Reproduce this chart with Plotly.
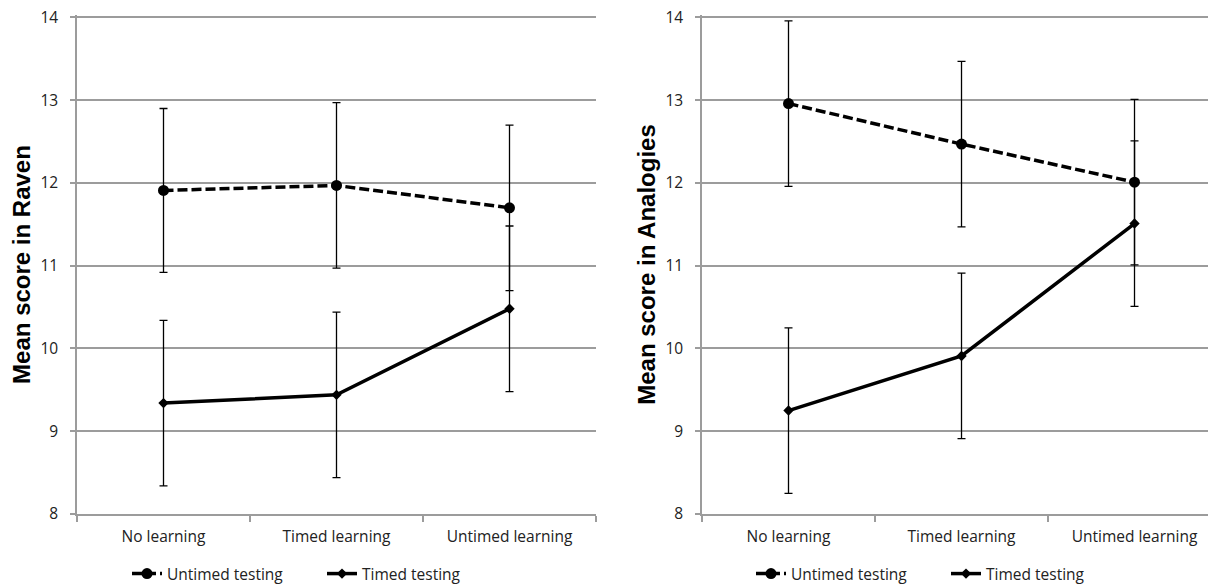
import plotly.graph_objects as go

categories = ["No learning", "Timed learning", "Untimed learning"]
series_names = ["Untimed testing", "Timed testing"]

# Panel 1: Raven
raven_untimed = [11.91, 11.97, 11.70]
raven_untimed_err = [0.99, 1.00, 1.00]
raven_timed = [9.34, 9.44, 10.48]
raven_timed_err = [1.00, 1.00, 1.00]

# Panel 2: Analogies
analog_untimed = [12.96, 12.47, 12.01]
analog_untimed_err = [1.00, 1.00, 1.00]
analog_timed = [9.25, 9.91, 11.51]
analog_timed_err = [1.00, 1.00, 1.00]

y_ticks = [8, 9, 10, 11, 12, 13, 14]

# the page body has an 8px margin, so the figure is drawn 8px smaller
W, H = 1208, 579
FONT = "Open Sans"
GRID = "#9c9c9c"

fig = go.Figure()

def add_panel(xa, ya, untimed, uerr, timed, terr, legend):
    fig.add_trace(go.Scatter(
        x=categories, y=untimed, name=series_names[0], xaxis=xa, yaxis=ya,
        mode="lines+markers", legend=legend, cliponaxis=False,
        line=dict(color="black", width=3.5, dash="10px,4px"),
        marker=dict(symbol="circle", size=11, color="black"),
        error_y=dict(type="data", array=uerr, visible=True, color="black",
                     thickness=1.3, width=4),
    ))
    fig.add_trace(go.Scatter(
        x=categories, y=timed, name=series_names[1], xaxis=xa, yaxis=ya,
        mode="lines+markers", legend=legend, cliponaxis=False,
        line=dict(color="black", width=3.5),
        marker=dict(symbol="diamond", size=8, color="black"),
        error_y=dict(type="data", array=terr, visible=True, color="black",
                     thickness=1.3, width=4),
    ))

add_panel("x", "y", raven_untimed, raven_untimed_err, raven_timed, raven_timed_err, "legend")
add_panel("x2", "y2", analog_untimed, analog_untimed_err, analog_timed, analog_timed_err, "legend2")

tickfont = dict(family=FONT, size=15.5, color="#222222")

def xaxis(domain, rng, anchor):
    return dict(domain=domain, anchor=anchor, type="category", categoryorder="array",
                categoryarray=categories, range=rng, tickson="boundaries",
                ticks="outside", ticklen=6, tickcolor=GRID, tickwidth=1.5,
                showline=True, linecolor=GRID, linewidth=1.5, showgrid=False,
                tickfont=tickfont, ticklabelstandoff=8, automargin=False,
                ticklabeloverflow="allow", fixedrange=True)

def yaxis(anchor, title):
    return dict(domain=[0, 1], anchor=anchor, range=[8, 14.03], tickvals=y_ticks,
                ticks="outside", ticklen=5, tickcolor=GRID, tickwidth=1.5,
                showline=True, linecolor=GRID, linewidth=1.5,
                showgrid=True, gridcolor=GRID, gridwidth=1.5, zeroline=False,
                tickfont=tickfont, ticklabelstandoff=9, automargin=False,
                ticklabeloverflow="allow",
                title=dict(text=title, standoff=3,
                           font=dict(family="Liberation Sans", size=24, color="black",
                                     weight="bold")),
                fixedrange=True)

legend_common = dict(orientation="h", yanchor="middle", y=1 - 566 / H, yref="container",
                     xanchor="left", xref="container",
                     font=dict(family=FONT, size=15.5, color="#222222"),
                     bgcolor="rgba(0,0,0,0)", entrywidth=150, entrywidthmode="pixels",
                     itemclick=False, itemdoubleclick=False)

fig.update_layout(
    width=W, height=H,
    margin=dict(l=0, r=0, t=7, b=73, autoexpand=False),
    paper_bgcolor="white", plot_bgcolor="white",
    showlegend=True,
    xaxis=xaxis([69 / W, 588 / W], [-0.5, 2.5], "y"),
    yaxis=yaxis("x", "Mean score in Raven"),
    xaxis2=xaxis([694 / W, 1.0], [-0.5, 2.471], "y2"),
    yaxis2=yaxis("x2", "Mean score in Analogies"),
    legend=dict(x=119 / W, **legend_common),
    legend2=dict(x=743 / W, **legend_common),
)

fig.write_html("out.html")
